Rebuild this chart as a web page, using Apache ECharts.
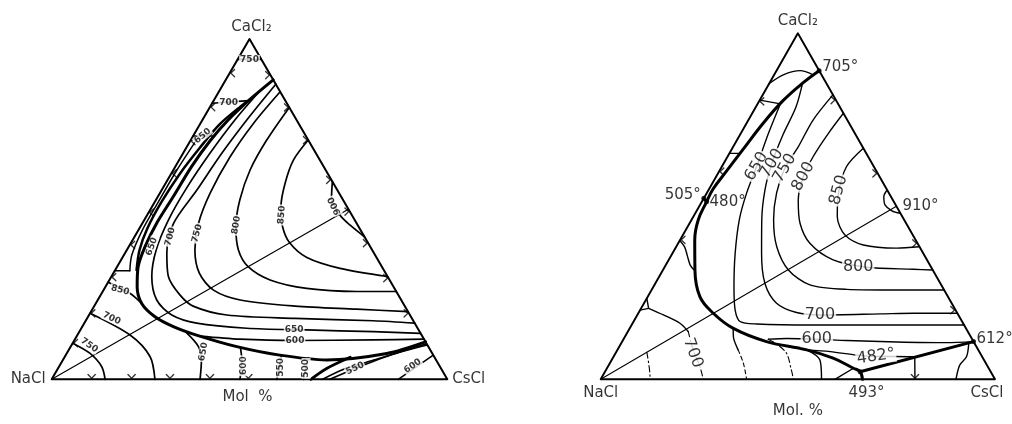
<!DOCTYPE html>
<html>
<head>
<meta charset="utf-8">
<script src="https://cdn.jsdelivr.net/npm/echarts@6/dist/echarts.min.js"></script>
<style>
  html, body { margin: 0; padding: 0; background: #fff; }
  #chart { width: 1012px; height: 424px; }
</style>
</head>
<body>
<div id="chart"></div>
<script>
// NaCl–CsCl–CaCl2 liquidus diagrams. Every point is a composition in mol %,
// written as [CsCl, CaCl2]; NaCl is the remainder.

// ---------- left diagram ----------
const L_edge = [[0, 0], [100, 0], [0, 100], [0, 0]];
const L_median = [[0, 0], [50, 50]];
const L_top750 = [[0, 94], [6, 94]];
const L_top700 = [[0, 81.1], [8.8, 81.9]];
const L_boundary = [[12, 88], [8.8, 81.9], [6.5, 76.2], [5.0, 70.1], [4.1, 62.5], [3.9, 53.7], [3.6, 45.8], [4.1, 39.0], [5.3, 33.1], [8.0, 27.2], [11.6, 22.3], [16.9, 18.4], [23.0, 15.5], [30.1, 13.0], [42.0, 9.6], [54.1, 7.1], [66.6, 5.7], [80.9, 7.6], [89.0, 11.0]];
const L_boundary2 = [[8.5, 81.6], [5.0, 75.0], [3.4, 67.9], [2.2, 60.5], [1.7, 52.2], [2.0, 44.4], [3.2, 38.0], [5.4, 32.1]];
const L_lowBoundary = [[65.5, 0], [67.9, 3.2], [72.2, 6.5]];
const L_stripTop = [[0, 71.5], [4.9, 71.5]];
const L_strip = [[1.5, 71.1], [0.9, 61.5], [0.9, 52.2], [1.0, 43.9], [2.0, 36.5], [3.8, 31.9]];
const L_stripFoot = [[3.8, 31.9], [0, 31.9]];
const L_iso650 = [[10.1, 84.2], [8.2, 76.2], [6.8, 66.4], [6.0, 56.1], [6.1, 46.8], [7.4, 38.0], [10.2, 30.2], [14.9, 23.3], [20.9, 18.9], [28.4, 16.5], [41.8, 15.0], [57.2, 14.5], [74.3, 14.0], [86.5, 13.5]];
const L_iso700 = [[13.3, 86.7], [11.4, 77.2], [9.8, 66.4], [8.9, 55.6], [7.9, 45.8], [10.6, 37.0], [14.4, 30.2], [20.0, 24.8], [25.0, 21.5], [34.8, 18.9], [52.6, 17.9], [72.7, 17.2], [83.5, 16.5]];
const L_iso750 = [[15.5, 84.5], [13.4, 75.2], [12.4, 65.4], [12.7, 54.7], [14.2, 45.8], [17.2, 38.0], [21.8, 31.1], [27.8, 26.2], [36.0, 23.3], [50.8, 21.5], [66.8, 20.6], [80.1, 19.9]];
const L_iso800 = [[20.1, 79.9], [19.2, 70.3], [19.4, 61.5], [21.2, 52.7], [24.1, 44.9], [28.2, 38.0], [33.1, 33.1], [40.6, 29.2], [51.1, 26.7], [64.2, 25.8], [74.2, 25.8]];
const L_iso850 = [[29.7, 70.3], [28.9, 64.4], [30.2, 57.6], [32.6, 50.7], [35.9, 44.9], [40.0, 40.2], [46.6, 35.8], [56.6, 32.6], [69.8, 30.2]];
const L_iso900 = [[41.9, 58.1], [43.9, 53.7], [48.7, 48.3], [52.8, 45.3], [58.1, 41.9]];
const L_iso600 = [[31.1, 12.7], [41.7, 11.8], [55.8, 11.4], [75.5, 11.6], [88.2, 11.8]];
const L_na750 = [[0, 10.6], [5.9, 7.6], [10.8, 3.7], [13.5, 0]];
const L_na700 = [[0, 19.4], [13.3, 13.0], [21.5, 6.7], [26.1, 0]];
const L_na850 = [[0, 28.5], [7.1, 25.3], [11.6, 22.3]];
const L_na650 = [[27.2, 13.7], [32.3, 9.6], [35.0, 5.7], [37.5, 0]];
const L_na600 = [[43.0, 9.4], [45.2, 5.7], [47.6, 0]];
const L_na550 = [[54.6, 7.0], [56.9, 0]];
const L_na500 = [[61.7, 6.3], [63.6, 0]];
const L_cs500 = [[68.5, 0], [72.5, 3.0], [79.0, 5.8], [89.4, 10.4]];
const L_cs550 = [[70.3, 0], [75.1, 3.2], [82.0, 7.1], [89.9, 10.1]];
const L_cs600 = [[87.6, 0], [92.9, 7.1]];
// isotherm labels: [text, composition, rotation]
const L_labels = [
  ['750', [3, 94], 0], ['700', [4, 81.4], 0], ['650', [2.4, 71.5], 40], ['650', [5.8, 39], 70],
  ['700', [9.0, 41.9], 75], ['750', [15.3, 42.9], 75], ['800', [24.0, 45.3], 80], ['850', [34.0, 48.3], 85],
  ['900', [46.0, 51.0], 115], ['650', [54, 14.6], 0], ['600', [55.8, 11.4], 0],
  ['750', [4.5, 10], -35], ['700', [6.2, 17.9], -25], ['850', [4.2, 26.2], -15],
  ['650', [34.3, 8.1], 80], ['600', [46.5, 4.0], 90], ['550', [56.0, 3.5], 90], ['500', [62.7, 3.2], 90],
  ['550', [75.1, 3.2], 25], ['600', [89.3, 3.9], 35]
];
const L_tickLeft = [90, 80, 70, 60.5, 49, 39.5, 30, 19.4, 10.6];
const L_tickRight = [89.4, 79.9, 70.3, 58.6, 49.3, 40, 29.7, 19.4];
const L_tickBase = [10.1, 20.2, 29.9, 40, 49.7];

// ---------- right diagram ----------
const R_edge = [[0, 0], [100, 0], [0, 100], [0, 0]];
const R_median = [[0, 0], [50, 50]];
const R_boundary = [[10.8, 89.2], [8.4, 85.6], [6.0, 80.6], [4.2, 74.0], [2.9, 66.5], [1.8, 60.0], [1.0, 55.0], [1.2, 51.3], [1.7, 46.1], [3.7, 40.3], [8.1, 31.6], [13.2, 23.9], [19.0, 19.1], [26.3, 14.7], [36.6, 10.9], [48.0, 8.5], [55.9, 6.1], [62.5, 3.2], [64.7, 2.2], [66.4, 0]];
const R_binary505 = [[0, 52.3], [1.2, 51.3]];
const R_csBoundary = [[64.7, 2.2], [89.1, 10.9]];
const R_topArc = [[0, 85.5], [2.3, 88.0], [6.0, 89.2], [9.9, 88.0]];
const R_short1 = [[0, 80.7], [5.8, 79.6]];
const R_short2 = [[0, 65.3], [2.7, 65.3]];
const R_loop = [[0, 40.1], [2.2, 38.2], [4.2, 35.6], [6.2, 33.0], [7.9, 31.6]];
const R_iso650 = [[5.8, 79.3], [7.0, 71.1], [8.8, 61.5], [10.1, 53.8], [12.1, 46.1], [15.9, 36.4], [20.4, 26.8], [24.1, 20.0], [27.0, 16.7], [31.6, 16.0], [46.0, 15.7], [63.0, 15.7], [84.3, 15.7]];
const R_iso700 = [[8.4, 85.6], [10.2, 78.6], [10.9, 70.6], [12.2, 62.4], [14.3, 54.7], [17.8, 46.1], [22.6, 36.4], [27.8, 27.7], [33.6, 22.0], [40.0, 19.3], [46.3, 18.6], [61.4, 18.9], [69.8, 19.1], [80.9, 19.1]];
const R_iso750 = [[17.8, 82.2], [16.4, 75.0], [16.5, 67.2], [16.2, 61.0], [17.7, 53.8], [20.8, 46.1], [25.5, 38.3], [31.8, 31.6], [39.4, 27.3], [49.4, 26.0], [62.2, 25.8], [74.2, 25.8]];
const R_iso800 = [[23.1, 76.9], [22.2, 71.1], [21.7, 64.4], [22.1, 58.6], [24.2, 51.8], [28.0, 45.1], [33.4, 39.3], [41.7, 34.5], [51.3, 32.4], [63.4, 31.8], [68.4, 31.6]];
const R_iso850 = [[33.2, 66.8], [31.6, 61.5], [33.4, 53.8], [36.5, 47.0], [41.1, 41.7], [47.2, 38.8], [56.1, 37.9], [61.7, 38.3]];
const R_iso900 = [[45.3, 54.7], [45.4, 52.8], [46.9, 50.4], [49.5, 48.7], [52.0, 48.0]];
const R_iso600 = [[36.7, 11.6], [41.3, 11.8], [49.0, 11.6], [56.8, 11.2], [69.7, 10.8], [82.4, 10.6], [89.1, 10.9]];
const R_iso482 = [[48.0, 8.5], [54.2, 8.0], [61.4, 7.0], [66.5, 6.6], [70.9, 6.6], [76.9, 6.5]];
const R_csVert = [[76.5, 6.3], [79.7, 0]];
const R_csCorner = [[88.1, 10.5], [89.5, 6.6], [89.0, 4.1], [90.1, 0]];
const R_naY1 = [[0, 23.4], [1.9, 20.5]];
const R_naY2 = [[0, 20.0], [1.9, 20.5]];
const R_na700 = [[1.9, 20.5], [6.6, 18.6], [12.0, 16.2], [15.3, 13.8]];
const R_na700b = [[15.3, 13.8], [19.2, 8.5], [23.3, 3.7], [26.0, 0]];
const R_naMed = [[7.8, 7.8], [12.1, 0.8], [12.5, 0]];
const R_na3 = [[26.2, 14.8], [27.5, 12.3], [30.6, 8.5]];
const R_na3b = [[30.6, 8.5], [33.9, 4.6], [37.0, 0]];
const R_na4 = [[36.7, 11.6], [39.5, 10.2], [43.4, 7.5], [47.0, 2.7], [48.9, 0]];
const R_na5 = [[48.0, 8.5], [52.8, 5.6], [56.0, 0]];
const R_na6 = [[62.5, 3.2], [59.4, 0]];
const R_labels = [
  ['650', [8.8, 61.5], 60], ['700', [12.2, 62.4], 60], ['750', [16.2, 61.0], 60], ['800', [22.1, 58.6], 62],
  ['850', [33.0, 54.7], 75], ['800', [49.0, 32.6], 0], ['700', [46.3, 18.6], 0], ['600', [49.0, 11.6], 0],
  ['700', [19.6, 7.6], -70], ['482°', [66.5, 6.6], 8]
];
const R_points = [[10.8, 89.2], [0, 52.3], [1.2, 51.3], [89.1, 10.9], [64.7, 2.2]];
const R_tickLeft = [80.3, 60, 40.3];
const R_tickRight = [80.7, 59.5, 39.3, 20];
const R_tickBase = [79.7];

// ---------- drawing ----------
const FONT = "'DejaVu Sans', 'Liberation Sans', sans-serif";
const INK = '#000';
const toXY = p => [p[0] + p[1] / 2, p[1]];
const series = [];

function curve(g, pts, w, dash, smooth) {
  series.push({
    type: 'line', xAxisIndex: g, yAxisIndex: g, data: pts.map(toXY),
    showSymbol: false, symbol: 'none', smooth: smooth === undefined ? 0.3 : smooth,
    silent: true, clip: false, animation: false, z: 2,
    lineStyle: { color: INK, width: w, type: dash || 'solid', cap: 'round', join: 'round' }
  });
}

function textMarks(g, items, base) {
  series.push({
    type: 'scatter', xAxisIndex: g, yAxisIndex: g, symbolSize: 0, silent: true, clip: false,
    animation: false, z: 6,
    data: items.map(([t, p, rot]) => ({
      value: toXY(p),
      label: Object.assign({ show: true, formatter: t, rotate: rot, position: 'inside', color: INK,
        fontFamily: FONT, backgroundColor: '#fff', padding: [0, 1] }, base)
    }))
  });
}

function namedPoint(g, p, text, pos, dist, size, offset) {
  series.push({
    type: 'scatter', xAxisIndex: g, yAxisIndex: g, symbolSize: 0, silent: true, clip: false,
    animation: false, z: 6,
    data: [{ value: toXY(p), label: { show: true, formatter: text, position: pos, distance: dist,
      offset: offset || [0, 0], color: INK, fontFamily: FONT, fontSize: size } }]
  });
}

const CHEVRON = 'path://M0,0L7,5L0,10';
function ticks(g, pts, rot) {
  series.push({
    type: 'scatter', xAxisIndex: g, yAxisIndex: g, silent: true, clip: false, animation: false, z: 4,
    symbol: CHEVRON, symbolSize: [6, 8], symbolRotate: rot, symbolKeepAspect: true,
    itemStyle: { color: 'none', borderColor: INK, borderWidth: 1.3 },
    data: pts.map(toXY)
  });
}

function dots(g, pts) {
  series.push({
    type: 'scatter', xAxisIndex: g, yAxisIndex: g, silent: true, clip: false, animation: false, z: 5,
    symbol: 'circle', symbolSize: 5, itemStyle: { color: INK }, data: pts.map(toXY)
  });
}

// left diagram
curve(0, L_edge, 2.0, null, false);
curve(0, L_median, 1.2, null, false);
curve(0, L_top750, 1.6, null, false);
curve(0, L_top700, 1.6, null, false);
curve(0, L_boundary, 3.0);
curve(0, L_boundary2, 2.5);
curve(0, L_lowBoundary, 2.8);
curve(0, L_stripTop, 1.5, null, false);
curve(0, L_strip, 1.5);
curve(0, L_stripFoot, 1.5, null, false);
[L_iso650, L_iso700, L_iso750, L_iso800, L_iso850, L_iso900, L_iso600].forEach(c => curve(0, c, 1.7));
[L_na750, L_na700, L_na850, L_na650, L_na600, L_na550, L_na500].forEach(c => curve(0, c, 1.7));
[L_cs500, L_cs550, L_cs600].forEach(c => curve(0, c, 1.6));
ticks(0, L_tickLeft.map(c => [0.8, c]), 180);
ticks(0, L_tickRight.map(c => [99.2 - c, c]), 0);
ticks(0, L_tickBase.map(x => [x - 0.45, 0.9]), -90);
textMarks(0, L_labels, { fontSize: 9, fontWeight: 'bold' });
namedPoint(0, [0, 100], 'CaCl₂', 'top', 4, 15, [2, 0]);
namedPoint(0, [0, 0], 'NaCl', 'left', 6, 15);
namedPoint(0, [100, 0], 'CsCl', 'right', 5, 15);
namedPoint(0, [50, 0], 'Mol  %', 'bottom', 10, 15, [-2, 0]);

// right diagram
curve(1, R_edge, 1.9, null, false);
curve(1, R_median, 1.1, null, false);
curve(1, R_boundary, 3.0, null, 0.4);
curve(1, R_binary505, 2.6, null, false);
curve(1, R_csBoundary, 3.0, null, false);
[R_topArc, R_short1, R_short2, R_loop, R_iso650, R_iso700, R_iso750, R_iso800, R_iso850, R_iso900,
 R_iso600, R_iso482, R_csVert, R_csCorner, R_naY1, R_naY2, R_na700, R_na3, R_na5, R_na6]
  .forEach(c => curve(1, c, 1.4));
curve(1, R_na700b, 1.1, [6, 3, 1.5, 3]);
curve(1, R_naMed, 1.1, [6, 3, 1.5, 3]);
curve(1, R_na3b, 1.1, [4, 3]);
curve(1, R_na4, 1.1, [6, 3, 1.5, 3]);
ticks(1, R_tickLeft.map(c => [0.8, c]), 180);
ticks(1, R_tickRight.map(c => [99.2 - c, c]), 0);
ticks(1, R_tickBase.map(x => [x - 0.45, 0.9]), -90);
dots(1, R_points);
textMarks(1, R_labels, { fontSize: 16 });
namedPoint(1, [0, 100], 'CaCl₂', 'top', 5, 15);
namedPoint(1, [0, 0], 'NaCl', 'bottom', 6, 15);
namedPoint(1, [100, 0], 'CsCl', 'bottom', 6, 15, [-8, 0]);
namedPoint(1, [66.4, 0], '493°', 'bottom', 6, 15, [4, 0]);
namedPoint(1, [50, 0], 'Mol. %', 'bottom', 24, 15);
namedPoint(1, [10.8, 89.2], '705°', 'right', 3, 15, [0, -4]);
namedPoint(1, [0, 52.3], '505°', 'left', 3, 15, [0, -3]);
namedPoint(1, [1.2, 51.3], '480°', 'right', 3, 15);
namedPoint(1, [50, 50], '910°', 'right', 6, 15);
namedPoint(1, [89.1, 10.9], '612°', 'right', 3, 15, [0, -2]);

const axisX = i => ({ type: 'value', gridIndex: i, min: 0, max: 100, show: false });
const chart = echarts.init(document.getElementById('chart'), null, { renderer: 'canvas' });
chart.setOption({
  backgroundColor: '#fff',
  animation: false,
  grid: [
    { left: 51.7, top: 39, width: 395.6, height: 340.3 },
    { left: 600.7, top: 33.3, width: 394.3, height: 346 }
  ],
  xAxis: [axisX(0), axisX(1)],
  yAxis: [axisX(0), axisX(1)],
  series: series
});
</script>
</body>
</html>
